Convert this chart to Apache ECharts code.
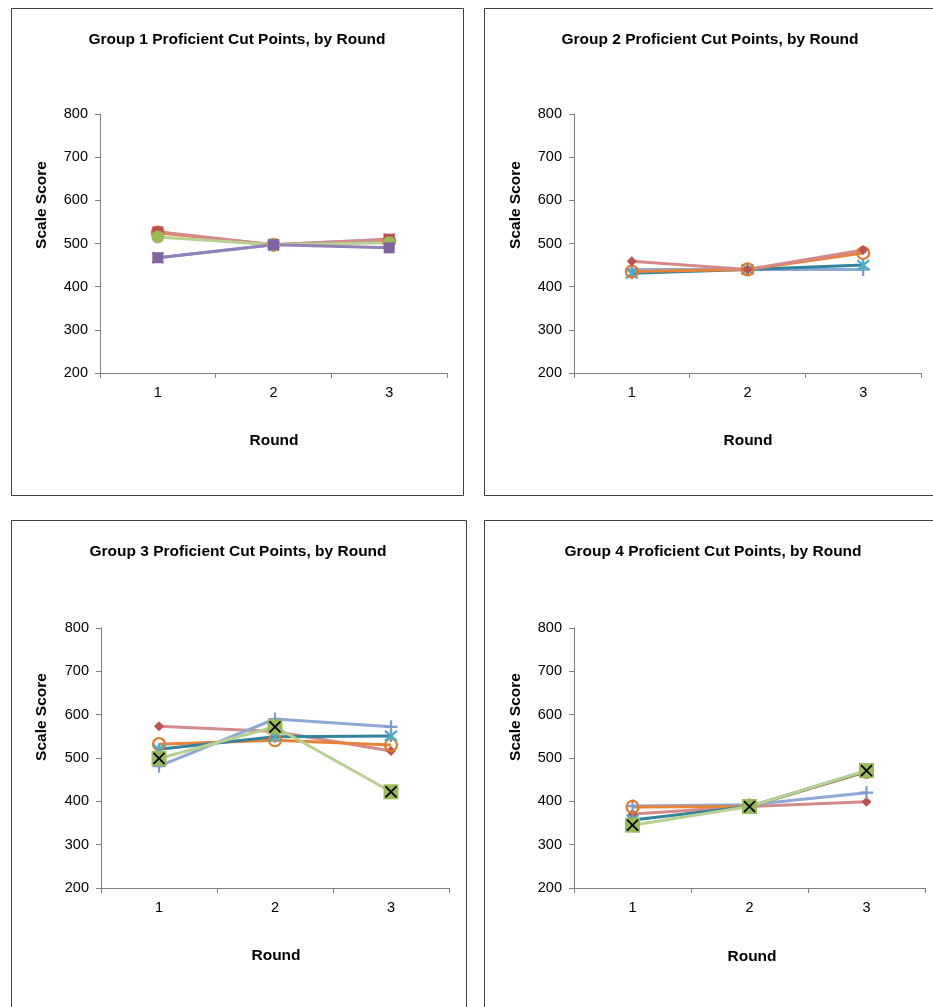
<!DOCTYPE html>
<html><head><meta charset="utf-8">
<script src="https://cdn.jsdelivr.net/npm/echarts@6/dist/echarts.min.js"></script>
<style>html,body{margin:0;padding:0;background:#fff}#c{width:933px;height:1007px}</style>
</head><body><div id="c"></div>
<script>
const rounds = ['1', '2', '3'];
const yTicks = [200, 300, 400, 500, 600, 700, 800];
const titles = ['Group 1 Proficient Cut Points, by Round','Group 2 Proficient Cut Points, by Round','Group 3 Proficient Cut Points, by Round','Group 4 Proficient Cut Points, by Round'];
// Group 1
const g1_blue   = [467, 497, 510];
const g1_red    = [527, 497, 510];
const g1_orange = [525, 497, 505];
const g1_green  = [515, 497, 502];
const g1_purple = [467, 497, 490];
// Group 2
const g2_blue   = [440, 440, 440];
const g2_teal   = [431, 440, 450];
const g2_orange = [435, 440, 478];
const g2_red    = [459, 440, 485];
// Group 3
const g3_red    = [573, 561, 516];
const g3_orange = [532, 541, 530];
const g3_teal   = [520, 549, 551];
const g3_blue   = [481, 590, 572];
const g3_green  = [499, 572, 422];
// Group 4
const g4_red    = [371, 388, 399];
const g4_blue   = [389, 392, 420];
const g4_orange = [387, 388, 468];
const g4_teal   = [357, 388, 470];
const g4_green  = [345, 388, 471];

const FONT = 'Liberation Sans, Arial, sans-serif';
const PLUS = 'path://M5,0 L5,10 M0,5 L10,5';
const XMARK = 'path://M0,0 L10,10 M10,0 L0,10';
const STAR = 'path://M0,0 L10,10 M10,0 L0,10 M5,-1 L5,11';

const styles = {
  red:    {line:'#D4898A', mark:'#C0504D', symbol:'diamond', size:10, fill:true},
  redsq:  {line:'#D4898A', mark:'#C0504D', symbol:'rect', size:11, fill:true},
  blue:   {line:'#8EA8D8', mark:'#7E9BCF', symbol:PLUS, size:13, fill:false},
  bluex:  {line:'#8EA8D8', mark:'#7E9BCF', symbol:XMARK, size:11, fill:false},
  orange: {line:'#E8833A', mark:'#E07A30', symbol:'circle', size:12, fill:false},
  teal:   {line:'#31849B', mark:'#4BACC6', symbol:STAR, size:12, fill:false},
  green:  {line:'#B8D192', mark:'#9BBB59', symbol:'rect', size:15, fill:true, xover:true},
  purple: {line:'#9280B8', mark:'#8064A2', symbol:'rect', size:11, fill:true},
  green1: {line:'#B8D192', mark:'#9BBB59', symbol:'circle', size:13, fill:true}
};

const grids = [
  {left:100, top:114, width:347, height:259},
  {left:574, top:114, width:347, height:259},
  {left:101, top:628, width:348, height:260},
  {left:574, top:628, width:351, height:260}
];

const panels = [
  [['orange',g1_orange],['bluex',g1_blue],['redsq',g1_red],['green1',g1_green],['purple',g1_purple]],
  [['blue',g2_blue],['teal',g2_teal],['orange',g2_orange],['red',g2_red]],
  [['red',g3_red],['orange',g3_orange],['teal',g3_teal],['blue',g3_blue],['green',g3_green]],
  [['red',g4_red],['blue',g4_blue],['orange',g4_orange],['teal',g4_teal],['green',g4_green]]
];

const series = [];
panels.forEach((list, gi) => {
  list.forEach(([key, data]) => {
    const s = styles[key];
    series.push({
      type:'line', xAxisIndex:gi, yAxisIndex:gi, data:data,
      symbol:s.symbol, symbolSize:s.size, showAllSymbol:true,
      lineStyle:{color:s.line, width:3},
      itemStyle:{color: s.fill ? s.mark : 'rgba(255,255,255,0)', borderColor:s.mark, borderWidth: s.fill ? 0 : 2.2, opacity:1},
      z: 2
    });
    if (s.xover) {
      series.push({
        type:'line', xAxisIndex:gi, yAxisIndex:gi, data:data,
        symbol:XMARK, symbolSize:11, showAllSymbol:true,
        lineStyle:{opacity:0, width:0},
        itemStyle:{color:'#000', borderColor:'#000', borderWidth:1.8},
        z: 3
      });
    }
  });
});

const xAxis = grids.map((g, i) => ({
  type:'category', gridIndex:i, data:rounds, boundaryGap:true,
  axisLine:{lineStyle:{color:'#808080', width:1}},
  axisTick:{show:true, inside:false, length:5, alignWithLabel:false, lineStyle:{color:'#808080'}},
  axisLabel:{color:'#000', fontFamily:FONT, fontSize:14.5, margin:12}
}));
const yAxis = grids.map((g, i) => ({
  type:'value', gridIndex:i, min:yTicks[0], max:yTicks[yTicks.length-1], interval:100,
  axisLine:{show:true, lineStyle:{color:'#808080', width:1}},
  axisTick:{show:true, length:5, lineStyle:{color:'#808080'}},
  splitLine:{show:false},
  axisLabel:{color:'#000', fontFamily:FONT, fontSize:14.5, margin:12}
}));

const titlePos = [[237,40],[710,40],[238,552],[713,552]];
const yNamePos = [[42,205],[516,205],[42,717],[516,717]];
const xNamePos = [[274,441],[748,441],[276,956],[752,957]];

const graphic = [
  {type:'rect', shape:{x:11.5,y:8.5,width:452,height:487}, style:{fill:'none',stroke:'#404040',lineWidth:1}},
  {type:'rect', shape:{x:484.5,y:8.5,width:460,height:487}, style:{fill:'none',stroke:'#404040',lineWidth:1}},
  {type:'rect', shape:{x:11.5,y:520.5,width:455,height:500}, style:{fill:'none',stroke:'#404040',lineWidth:1}},
  {type:'rect', shape:{x:484.5,y:520.5,width:460,height:500}, style:{fill:'none',stroke:'#404040',lineWidth:1}}
];
titlePos.forEach((p,i)=>graphic.push({type:'text', x:p[0], y:p[1], style:{text:titles[i], font:'bold 15.5px '+FONT, fill:'#000', textAlign:'center', textVerticalAlign:'middle'}}));
yNamePos.forEach((p)=>graphic.push({type:'text', x:p[0], y:p[1], rotation:Math.PI/2, style:{text:'Scale Score', font:'bold 15.5px '+FONT, fill:'#000', textAlign:'center', textVerticalAlign:'middle'}}));
xNamePos.forEach((p)=>graphic.push({type:'text', x:p[0], y:p[1], style:{text:'Round', font:'bold 15.5px '+FONT, fill:'#000', textAlign:'center', textVerticalAlign:'middle'}}));

const chart = echarts.init(document.getElementById('c'), null, {renderer:'canvas'});
chart.setOption({
  animation:false,
  backgroundColor:'#fff',
  grid:grids,
  xAxis:xAxis, yAxis:yAxis,
  series:series,
  graphic:graphic
});
</script></body></html>
